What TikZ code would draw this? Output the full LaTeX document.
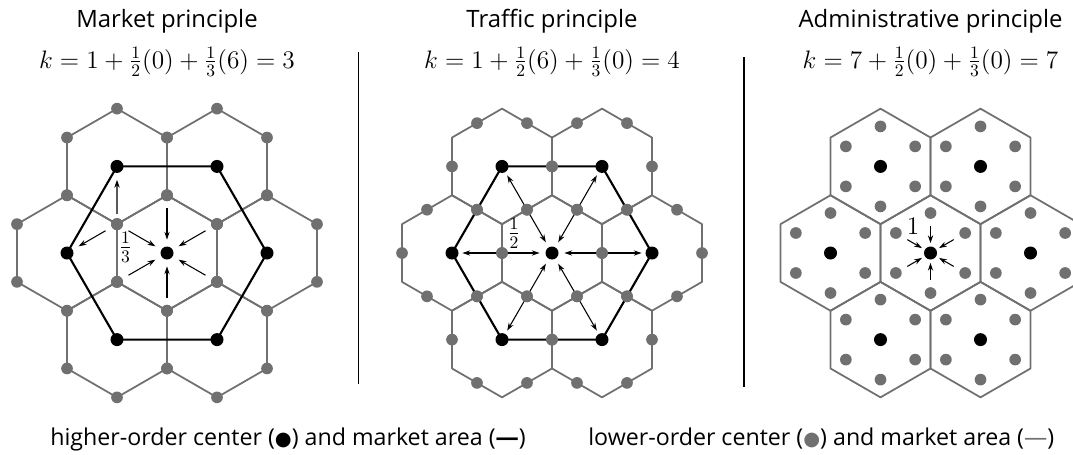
\documentclass[tikz,border=0pt]{standalone}
\usepackage[no-math]{fontspec}
\setmainfont{Open Sans}
\newfontfamily\symfont{DejaVu Sans}
\usepackage{tikz}
\usetikzlibrary{arrows.meta}
\definecolor{lowgray}{RGB}{112,112,112}
\pgfdeclarelayer{background}
\pgfsetlayers{background,main}

\begin{document}
\begin{tikzpicture}[
  title/.style={font=\fontsize{13.6}{16}\selectfont,anchor=base,inner sep=0pt},
  formula/.style={font=\fontsize{14.8}{17}\selectfont,anchor=base,inner sep=0pt},
  share/.style={font=\fontsize{14.8}{17}\selectfont,inner sep=0pt},
  legend/.style={font=\fontsize{13.2}{15}\selectfont,anchor=base west,inner sep=0pt},
  highdot/.style={circle,fill=black,inner sep=0pt,minimum size=0.26cm},
  lowdot/.style={circle,fill=lowgray,inner sep=0pt,minimum size=0.234cm},
  area/.style={draw=lowgray,line width=1pt,line join=round},
  market/.style={draw=black,line width=1.2pt,line join=round},
  flow/.style={-{Stealth[length=4.5pt,width=3pt]},line width=0.6pt},
  twoway/.style={{Stealth[length=4.5pt,width=3pt]}-{Stealth[length=4.5pt,width=3pt]},line width=0.6pt},
  divider/.style={line width=1.1pt}
]
\useasboundingbox (0,0) rectangle (21.46,-9.08);

% headings
\node[title] (mtitle) at (3.34,-0.54) {Market principle};
\node[formula] (mk) at (3.34,-1.36) {$k=1+\frac{1}{2}(0)+\frac{1}{3}(6)=3$};
\node[title] (ttitle) at (11.04,-0.54) {Traffic principle};
\node[formula] (tk) at (11.04,-1.36) {$k=1+\frac{1}{2}(6)+\frac{1}{3}(0)=4$};
\node[title] (atitle) at (18.61,-0.54) {Administrative principle};
\node[formula] (ak) at (18.61,-1.36) {$k=7+\frac{1}{2}(0)+\frac{1}{3}(0)=7$};

\draw[divider] (7.17,-1.04) -- (7.17,-7.68);
\draw[divider] (14.88,-1.14) -- (14.88,-7.74);

% market principle (k=3)
\begin{scope}[shift={(3.34,-5.06)}]
  \node[highdot] (m0) at (0,0) {};
  \foreach \a [count=\i] in {0,60,...,300}
    \node[highdot] (m\i) at (\a:2) {};
  \foreach \c in {0,...,6}
    \foreach \v in {30,90,...,330}
      \path (m\c.center) ++(\v:1.1547) node[lowdot] (m\c-\v) {};
  \begin{pgfonlayer}{background}
    \foreach \c in {0,...,6}
      \draw[area] (m\c.center) +(30:1.1547) -- +(90:1.1547) -- +(150:1.1547)
        -- +(210:1.1547) -- +(270:1.1547) -- +(330:1.1547) -- cycle;
    \draw[market] (m1.center) -- (m2.center) -- (m3.center) -- (m4.center)
      -- (m5.center) -- (m6.center) -- cycle;
  \end{pgfonlayer}
  \foreach \v in {30,90,...,330}
    \draw[flow,shorten <=0.14cm,shorten >=0.13cm] (m0-\v) -- (m0);
  \draw[flow,shorten <=0.08cm,shorten >=0.13cm] (m0-150) -- (m3);
  \draw[flow,shorten <=0.14cm,shorten >=0.13cm] (m0-150) -- (m4);
  \node[share] (mthird) at (-0.83,0.12) {$\frac{1}{3}$};
\end{scope}

% traffic principle (k=4)
\begin{scope}[shift={(11.04,-5.06)}]
  \node[highdot] (t0) at (0,0) {};
  \foreach \a [count=\i] in {0,60,...,300}
    \node[highdot] (t\i) at (\a:2) {};
  \foreach \c in {0,...,6}
    \foreach \v in {0,60,...,300}
      \path (t\c.center) ++(\v:1) node[lowdot] (t\c-\v) {};
  \begin{pgfonlayer}{background}
    \foreach \c in {0,...,6}
      \draw[area] (t\c.center) +(30:1.1547) -- +(90:1.1547) -- +(150:1.1547)
        -- +(210:1.1547) -- +(270:1.1547) -- +(330:1.1547) -- cycle;
    \draw[market] (t1.center) -- (t2.center) -- (t3.center) -- (t4.center)
      -- (t5.center) -- (t6.center) -- cycle;
    \foreach \i in {1,...,6}
      \draw[twoway,shorten <=0.11cm,shorten >=0.07cm] (t0) -- (t\i);
  \end{pgfonlayer}
  \node[share] (thalf) at (-0.76,0.40) {$\frac{1}{2}$};
\end{scope}

% administrative principle (k=7)
\begin{scope}[shift={(18.61,-5.06)}]
  \node[highdot] (a0) at (0,0) {};
  \foreach \a [count=\i] in {0,60,...,300}
    \node[highdot] (a\i) at (\a:2) {};
  \foreach \c in {0,...,6}
    \foreach \v in {30,90,...,330}
      \path (a\c.center) ++(\v:0.8) node[lowdot] (a\c-\v) {};
  \begin{pgfonlayer}{background}
    \foreach \c in {0,...,6}
      \draw[area] (a\c.center) +(30:1.1547) -- +(90:1.1547) -- +(150:1.1547)
        -- +(210:1.1547) -- +(270:1.1547) -- +(330:1.1547) -- cycle;
  \end{pgfonlayer}
  \foreach \v in {30,90,...,330}
    \draw[flow,shorten <=0.14cm,shorten >=0.06cm] (a0-\v) -- (a0);
  \node[share] (aone) at (-0.35,0.53) {$1$};
\end{scope}

% legend
\node[legend] (hilegend) at (1.0,-8.9)
  {higher-order center ({\symfont\fontsize{11}{11}\selectfont ●}) and market area (\textbf{—})};
\node[legend] (lolegend) at (11.76,-8.9)
  {lower-order center ({\color{lowgray}\symfont\fontsize{11}{11}\selectfont ●}) and market area ({\color{lowgray}—})};
\end{tikzpicture}
\end{document}
